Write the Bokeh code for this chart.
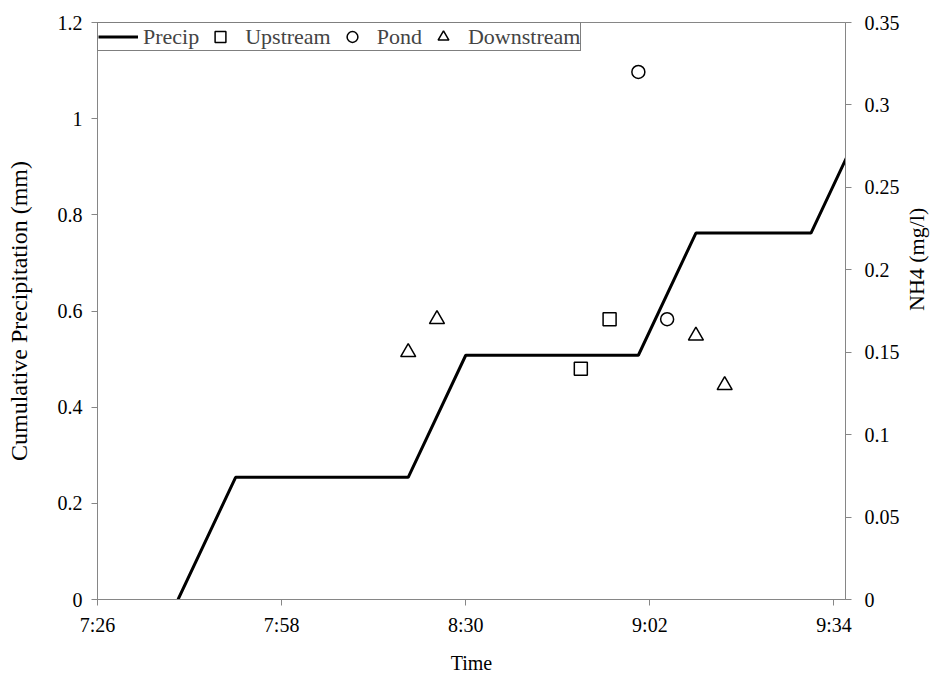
from math import pi

from bokeh.plotting import figure
from bokeh.models import (Range1d, LinearAxis, FixedTicker, CustomJSTickFormatter,
                          Legend, LegendItem)
from bokeh.embed import file_html
from bokeh.resources import INLINE

# Cumulative precipitation from the tipping-bucket gauge (mm)
precip_time = ["7:40", "7:50", "8:20", "8:30", "9:00", "9:10", "9:30", "9:40"]
precip_mm = [0, 0.254, 0.254, 0.508, 0.508, 0.762, 0.762, 1.016]

# NH4 grab samples (mg/l)
upstream_time = ["8:50", "8:55"]
upstream_nh4 = [0.14, 0.17]
pond_time = ["9:00", "9:05"]
pond_nh4 = [0.32, 0.17]
downstream_time = ["8:20", "8:25", "9:10", "9:15"]
downstream_nh4 = [0.15, 0.17, 0.16, 0.13]

# Axis ticks
time_ticks = ["7:26", "7:58", "8:30", "9:02", "9:34"]
precip_ticks = [0, 0.2, 0.4, 0.6, 0.8, 1.0, 1.2]
nh4_ticks = [0, 0.05, 0.1, 0.15, 0.2, 0.25, 0.3, 0.35]


def to_min(s):
    h, m = s.split(":")
    return int(h) * 60 + int(m)


FONT = "Liberation Serif"
GRAY = "#868686"
X0, X1 = to_min("7:26"), to_min("9:36")
FL, FR, FT, FB = 97, 845, 22, 600  # frame edges in pixels
W, H = 944, 676

p = figure(width=W, height=H, output_backend="svg", toolbar_location=None,
           x_range=Range1d(X0, X1), y_range=Range1d(0, 1.2),
           min_border_left=FL, min_border_right=W - FR,
           min_border_top=FT, min_border_bottom=H - FB)
p.extra_y_ranges = {"nh4": Range1d(0, 0.35)}
p.grid.visible = False
p.outline_line_color = GRAY
p.outline_line_width = 1
p.background_fill_color = "white"
p.border_fill_color = "white"

num_fmt = CustomJSTickFormatter(code="return String(Number(tick.toFixed(3)));")
time_fmt = CustomJSTickFormatter(code="""
const m = Math.round(tick);
const mm = m % 60;
return Math.floor(m / 60) + ":" + (mm < 10 ? "0" : "") + mm;
""")


def style_axis(ax, standoff, label, label_standoff, label_size):
    ax.axis_line_color = GRAY
    ax.axis_line_width = 1
    ax.major_tick_line_color = GRAY
    ax.minor_tick_line_color = None
    ax.major_tick_in = 0
    ax.major_tick_out = 6
    ax.major_label_standoff = standoff
    ax.major_label_text_font = FONT
    ax.major_label_text_font_size = "20px"
    ax.major_label_text_color = "black"
    ax.axis_label = label
    ax.axis_label_standoff = label_standoff
    ax.axis_label_text_font = FONT
    ax.axis_label_text_font_style = "normal"
    ax.axis_label_text_font_size = label_size
    ax.axis_label_text_color = "black"


xaxis = p.xaxis[0]
style_axis(xaxis, 8, "Time", 13, "20px")
xaxis.ticker = FixedTicker(ticks=[to_min(t) for t in time_ticks])
xaxis.formatter = time_fmt

yaxis = p.yaxis[0]
style_axis(yaxis, 9, "Cumulative Precipitation (mm)", 23, "24px")
yaxis.ticker = FixedTicker(ticks=precip_ticks)
yaxis.formatter = num_fmt

raxis = LinearAxis(y_range_name="nh4")
style_axis(raxis, 13, "NH4 (mg/l)", 14, "22px")
raxis.axis_label_orientation = pi / 2  # read bottom-to-top like the left title
raxis.ticker = FixedTicker(ticks=nh4_ticks)
raxis.formatter = num_fmt
p.add_layout(raxis, "right")

# Precipitation line
r_precip = p.line([to_min(t) for t in precip_time], precip_mm,
                  line_color="black", line_width=3)

# NH4 samples
marker_style = dict(fill_color="white", line_color="black", line_width=1.5,
                    y_range_name="nh4")
r_up = p.scatter([to_min(t) for t in upstream_time], upstream_nh4,
                 marker="square", size=13, **marker_style)
r_pond = p.scatter([to_min(t) for t in pond_time], pond_nh4,
                   marker="circle", size=13, **marker_style)
r_down = p.scatter([to_min(t) for t in downstream_time], downstream_nh4,
                   marker="triangle", size=15, **marker_style)

legend = Legend(items=[LegendItem(label="Precip", renderers=[r_precip]),
                       LegendItem(label="Upstream", renderers=[r_up]),
                       LegendItem(label="Pond", renderers=[r_pond]),
                       LegendItem(label="Downstream", renderers=[r_down])],
                location="top_left", orientation="horizontal",
                spacing=1, glyph_width=40, glyph_height=27, label_standoff=5,
                label_height=20, padding=0, margin=0,
                border_line_color="black", border_line_width=1,
                background_fill_color="white", background_fill_alpha=1,
                label_text_font=FONT, label_text_font_size="22px")
p.add_layout(legend)

open("out.html", "w").write(file_html(p, INLINE))
